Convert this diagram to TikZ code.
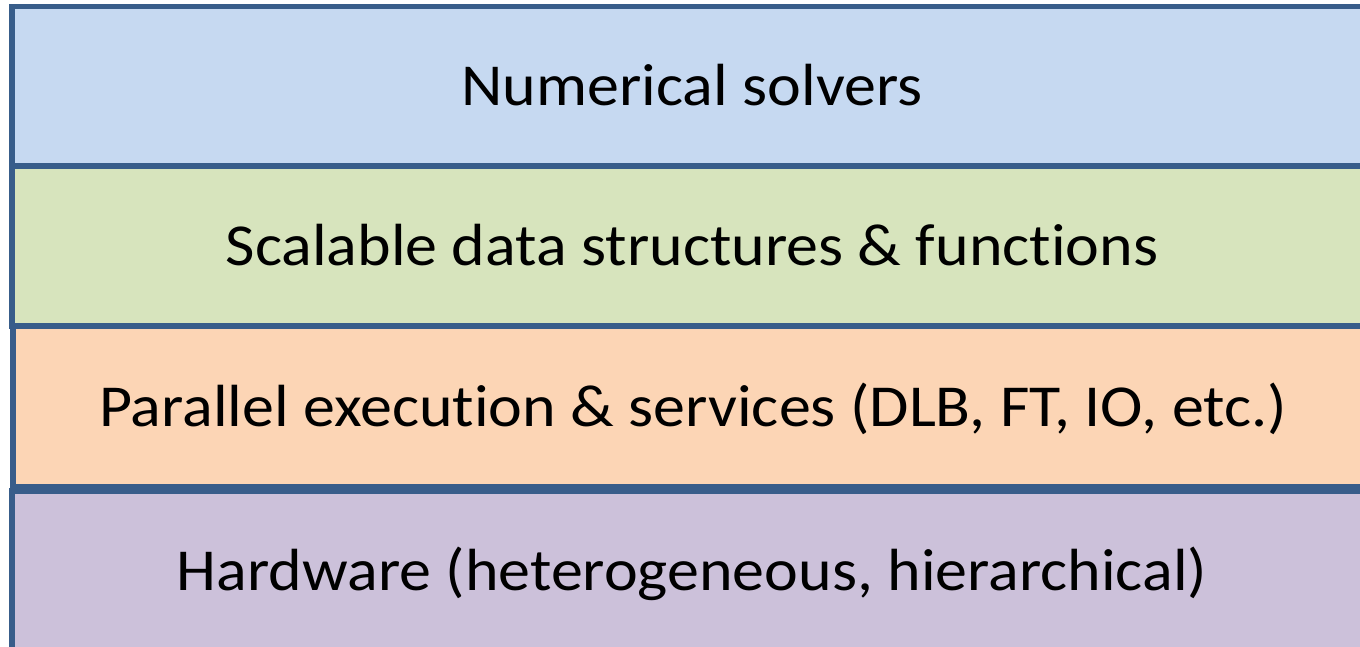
\documentclass[tikz,border=0pt]{standalone}
\usepackage{fontspec}
\setmainfont{Carlito}[FakeStretch=1.075, Ligatures=NoCommon]
\definecolor{layerborder}{HTML}{385D8A}
\definecolor{solverfill}{HTML}{C6D9F1}
\definecolor{datafill}{HTML}{D7E4BD}
\definecolor{execfill}{HTML}{FCD5B5}
\definecolor{hwfill}{HTML}{CCC1DA}
\tikzset{
  layer/.style={rectangle, draw=layerborder, line width=5.5pt,
    minimum width=1360pt, minimum height=160pt, inner sep=0pt,
    text height=39pt, text depth=0pt,
    font=\fontsize{59.5}{70}\selectfont}
}
\begin{document}
\begin{tikzpicture}[x=1pt,y=1pt]
  \useasboundingbox (0,0) rectangle (1360,-646);
  \clip (0,0) rectangle (1360,-646);
  % software stack, top to bottom
  \node[layer, fill=solverfill] (solvers) at (692,-86.25) {Numerical solvers};
  \node[layer, fill=datafill]   (data)    at (692,-246)   {Scalable data structures \& functions};
  \node[layer, fill=execfill]   (exec)    at (693,-406.5) {Parallel execution \& services (DLB, FT, IO, etc.)};
  \node[layer, fill=hwfill]     (hw)      at (692,-571)   {Hardware (heterogeneous, hierarchical)};
\end{tikzpicture}
\end{document}
